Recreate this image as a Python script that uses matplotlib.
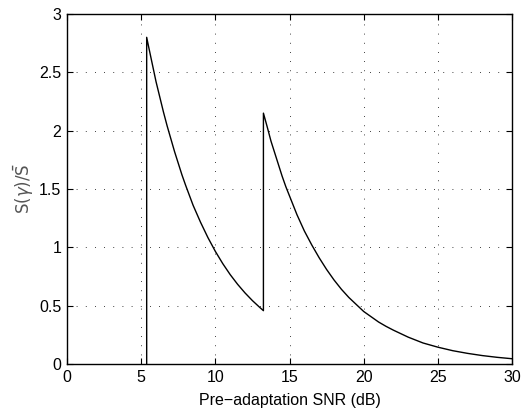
import matplotlib
matplotlib.use("Agg")
import matplotlib.pyplot as plt
import numpy as np

# Segment 1
snr1 = [5.37, 5.37, 5.5, 5.75, 6.0, 6.25, 6.5, 6.75, 7.0, 7.25, 7.5, 7.75, 8.0, 8.5,
        9.0, 9.5, 10.0, 10.5, 11.0, 11.5, 12.0, 12.5, 13.0, 13.24]
s1 = [0.0, 2.80, 2.72, 2.57, 2.42, 2.29, 2.16, 2.04, 1.93, 1.82, 1.72, 1.62, 1.53,
      1.36, 1.215, 1.083, 0.965, 0.860, 0.766, 0.683, 0.609, 0.543, 0.484, 0.457]
# Segment 2
snr2 = [13.24, 13.5, 13.75, 14.0, 14.25, 14.5, 14.75, 15.0, 15.5, 16.0, 16.5, 17.0,
        17.5, 18.0, 18.5, 19.0, 19.5, 20.0, 20.5, 21.0, 21.5, 22.0, 23.0, 24.0, 25.0,
        26.0, 27.0, 28.0, 29.0, 30.0]
s2 = [2.15, 2.03, 1.91, 1.81, 1.71, 1.61, 1.52, 1.44, 1.28, 1.14, 1.02, 0.91, 0.81,
      0.72, 0.64, 0.57, 0.51, 0.45, 0.405, 0.36, 0.323, 0.29, 0.23, 0.18, 0.144,
      0.114, 0.091, 0.072, 0.057, 0.045]

xticks = [0, 5, 10, 15, 20, 25, 30]
yticks = [0, 0.5, 1, 1.5, 2, 2.5, 3]
yticklabels = ["0", "0.5", "1", "1.5", "2", "2.5", "3"]

plt.rcParams['font.family'] = ['Liberation Sans', 'DejaVu Sans']
plt.rcParams['mathtext.fontset'] = 'dejavusans'

fig = plt.figure(figsize=(5.22, 4.11), dpi=100)
ax = fig.add_axes([0.1284, 0.1144, 0.8525, 0.8516])

x = snr1 + snr2
y = s1 + s2
ax.plot(x, y, color='black', linewidth=1.0)

ax.set_xlim(0, 30)
ax.set_ylim(0, 3)
ax.set_xticks(xticks)
ax.set_yticks(yticks)
ax.set_yticklabels(yticklabels)
ax.tick_params(direction='in', top=True, right=True, length=4, width=0.8,
               labelsize=11.5, colors='black', pad=4)
ax.grid(True, linestyle=(0, (1, 10)), color='black', linewidth=0.6)
for sp in ax.spines.values():
    sp.set_linewidth(1.0)

ax.set_xlabel('Pre\u2212adaptation SNR (dB)', fontsize=11.5, labelpad=6)
ax.set_ylabel(r'$\mathrm{S}(\gamma)/\bar{\mathrm{S}}$', fontsize=12, color='#555555',
              labelpad=2.5)

fig.savefig('out.png', dpi=100)
